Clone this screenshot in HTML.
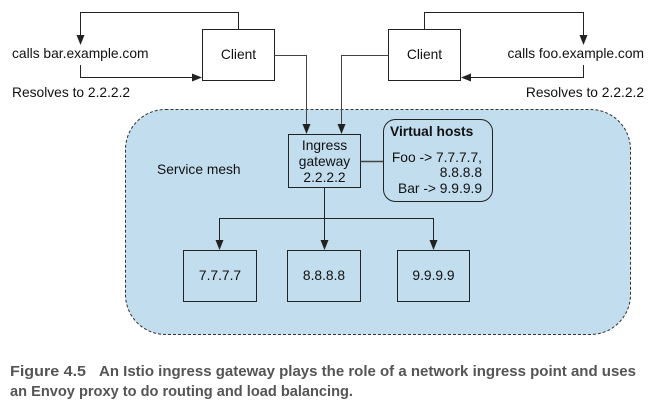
<!DOCTYPE html>
<html><head><meta charset="utf-8"><style>
html,body{margin:0;padding:0;background:#fff;}
svg{display:block;}
</style></head><body>
<svg width="663" height="416" viewBox="0 0 663 416" xmlns="http://www.w3.org/2000/svg">
<defs>
<marker id="a" markerWidth="10" markerHeight="10" refX="9" refY="4" orient="auto" markerUnits="userSpaceOnUse">
<path d="M0,0 L10,4 L0,8 z" fill="#222"/>
</marker>
</defs>
<rect x="125.5" y="109.5" width="505" height="225" rx="40" ry="40" fill="#c1ddee" stroke="#333" stroke-dasharray="3,2" stroke-width="1"/>
<g font-family="Liberation Sans, sans-serif" font-size="13.8" fill="#111">
<rect x="202.5" y="29.5" width="72" height="51" fill="#fff" stroke="#222"/>
<text x="238.5" y="59" text-anchor="middle">Client</text>
<polyline points="238.5,29 238.5,12.5 80.5,12.5 80.5,44" fill="none" stroke="#222" marker-end="url(#a)"/>
<text x="12" y="58">calls bar.example.com</text>
<polyline points="80.5,65 80.5,77.5 201,77.5" fill="none" stroke="#222" marker-end="url(#a)"/>
<text x="12" y="97">Resolves to 2.2.2.2</text>
<rect x="388.5" y="29.5" width="72" height="51" fill="#fff" stroke="#222"/>
<text x="424.5" y="59" text-anchor="middle">Client</text>
<polyline points="424.5,29 424.5,12.5 583.5,12.5 583.5,44" fill="none" stroke="#222" marker-end="url(#a)"/>
<text x="644" y="58" text-anchor="end">calls foo.example.com</text>
<polyline points="583.5,65 583.5,77.5 462,77.5" fill="none" stroke="#222" marker-end="url(#a)"/>
<text x="644" y="97" text-anchor="end">Resolves to 2.2.2.2</text>
<polyline points="274.5,55.5 306.5,55.5 306.5,133" fill="none" stroke="#444" marker-end="url(#a)"/>
<polyline points="388.5,55.5 341.5,55.5 341.5,133" fill="none" stroke="#444" marker-end="url(#a)"/>
<rect x="288.5" y="134.5" width="72" height="53" fill="#c1ddee" stroke="#222"/>
<text x="324.5" y="150" text-anchor="middle">Ingress</text>
<text x="324.5" y="166" text-anchor="middle">gateway</text>
<text x="324.5" y="182" text-anchor="middle">2.2.2.2</text>
<line x1="360.5" y1="161.5" x2="383.5" y2="161.5" stroke="#444" stroke-width="1.5"/>
<rect x="383.5" y="119.5" width="109" height="82" rx="12" fill="#c1ddee" stroke="#222"/>
<text x="390" y="136" font-weight="bold">Virtual hosts</text>
<text x="482" y="162" text-anchor="end">Foo -&gt; 7.7.7.7,</text>
<text x="482" y="177" text-anchor="end">8.8.8.8</text>
<text x="482" y="193" text-anchor="end">Bar -&gt; 9.9.9.9</text>
<text x="157" y="174">Service mesh</text>
<line x1="324.5" y1="187.5" x2="324.5" y2="249" stroke="#222" marker-end="url(#a)"/>
<polyline points="219.5,249 219.5,218.5 433.5,218.5 433.5,249" fill="none" stroke="#222"/>
<line x1="219.5" y1="230" x2="219.5" y2="249" stroke="#222" marker-end="url(#a)"/>
<line x1="433.5" y1="230" x2="433.5" y2="249" stroke="#222" marker-end="url(#a)"/>
<rect x="183.5" y="250.5" width="73" height="51" fill="#c1ddee" stroke="#222"/>
<text x="220" y="280" text-anchor="middle">7.7.7.7</text>
<rect x="287.5" y="250.5" width="73" height="51" fill="#c1ddee" stroke="#222"/>
<text x="324" y="280" text-anchor="middle">8.8.8.8</text>
<rect x="397.5" y="250.5" width="72" height="51" fill="#c1ddee" stroke="#222"/>
<text x="433.5" y="280" text-anchor="middle">9.9.9.9</text>
</g>
<g font-family="Liberation Sans, sans-serif" font-size="15" font-weight="bold" fill="#555">
<text x="10" y="376" textLength="76" lengthAdjust="spacingAndGlyphs">Figure 4.5</text>
<text x="99" y="376" textLength="537" lengthAdjust="spacingAndGlyphs">An Istio ingress gateway plays the role of a network ingress point and uses</text>
<text x="10" y="396" textLength="343" lengthAdjust="spacingAndGlyphs">an Envoy proxy to do routing and load balancing.</text>
</g>
</svg>
</body></html>
